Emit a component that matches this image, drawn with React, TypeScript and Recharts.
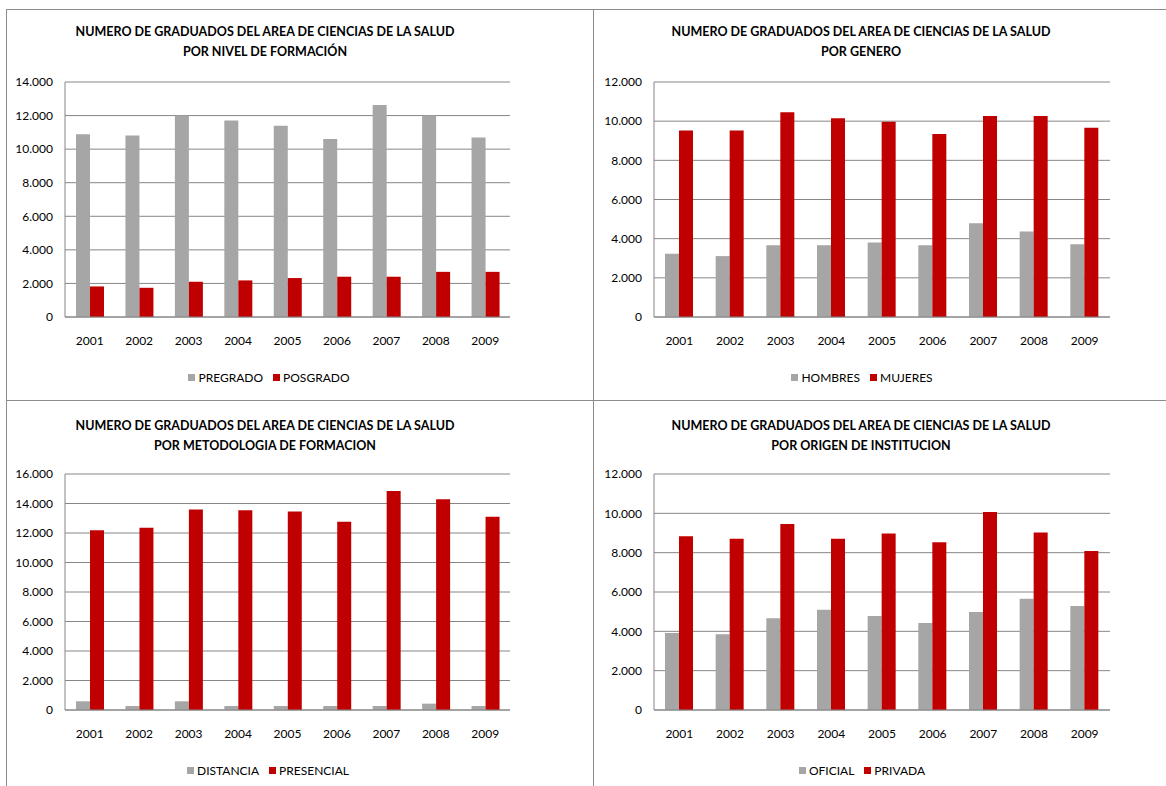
import { BarChart, Bar, XAxis, YAxis, CartesianGrid } from "recharts"

const years = ["2001", "2002", "2003", "2004", "2005", "2006", "2007", "2008", "2009"]

const pregrado = [10890, 10810, 12000, 11700, 11400, 10610, 12630, 12000, 10690]
const posgrado = [1820, 1740, 2100, 2180, 2320, 2400, 2400, 2690, 2690]

const hombres = [3230, 3110, 3670, 3670, 3800, 3670, 4790, 4360, 3720]
const mujeres = [9520, 9520, 10460, 10150, 9970, 9340, 10270, 10270, 9660]

const distancia = [590, 270, 590, 270, 270, 270, 270, 430, 270]
const presencial = [12180, 12360, 13600, 13540, 13450, 12770, 14850, 14280, 13110]

const oficial = [3920, 3850, 4660, 5100, 4780, 4420, 4980, 5660, 5290]
const privada = [8830, 8710, 9460, 8710, 8970, 8530, 10070, 9020, 8080]

const GRAY = "#a6a6a6"
const RED = "#c00000"
const FONT = "Lato, 'Liberation Sans', sans-serif"

const fmt = (v: number) => (v === 0 ? "0" : v.toLocaleString("de-DE"))

const toRows = (a: number[], b: number[]) => years.map((y, i) => ({ year: y, a: a[i], b: b[i] }))

type PanelProps = {
  left: number
  top: number
  width: number
  height: number
  yWidth: number
  marginTop: number
  marginRight: number
  marginBottom: number
  max: number
  title2: string
  names: [string, string]
  a: number[]
  b: number[]
  titleCx: number
  titleTop: number
  legendCx: number
  legendTop: number
}

const Panel = (p: PanelProps) => {
  const ticks: number[] = []
  for (let t = 0; t <= p.max; t += 2000) ticks.push(t)
  return (
    <>
      <div
        style={{
          position: "absolute",
          left: p.titleCx - 250,
          top: p.titleTop,
          width: 500,
          textAlign: "center",
          fontFamily: FONT,
          fontWeight: 700,
          fontSize: 12.5,
          lineHeight: "20px",
          color: "#000",
        }}
      >
        <div>NUMERO DE GRADUADOS DEL AREA DE CIENCIAS DE LA SALUD</div>
        <div>{p.title2}</div>
      </div>
      <div style={{ position: "absolute", left: p.left, top: p.top }}>
        <BarChart
          width={p.width}
          height={p.height}
          data={toRows(p.a, p.b)}
          margin={{ top: p.marginTop, right: p.marginRight, bottom: p.marginBottom, left: 0 }}
          barSize={14}
          barGap={0}
        >
          <CartesianGrid vertical={false} stroke="#868686" strokeWidth={1} />
          <XAxis
            dataKey="year"
            tickLine={false}
            tickSize={0}
            tickMargin={19}
            height={30}
            axisLine={{ stroke: "#868686" }}
            tick={{ fill: "#000", fontSize: 12, fontFamily: FONT }}
          />
          <YAxis
            width={p.yWidth}
            domain={[0, p.max]}
            ticks={ticks}
            tickFormatter={fmt}
            tickLine={false}
            tickSize={0}
            tickMargin={12}
            axisLine={{ stroke: "#868686" }}
            tick={{ fill: "#000", fontSize: 12, fontFamily: FONT }}
            interval={0}
          />
          <Bar dataKey="a" name={p.names[0]} fill={GRAY} isAnimationActive={false} />
          <Bar dataKey="b" name={p.names[1]} fill={RED} isAnimationActive={false} />
        </BarChart>
      </div>
      <div
        style={{
          position: "absolute",
          left: p.legendCx - 150,
          top: p.legendTop,
          width: 300,
          display: "flex",
          justifyContent: "center",
          alignItems: "center",
          gap: 10,
          fontFamily: FONT,
          fontSize: 12,
          color: "#000",
        }}
      >
        {p.names.map((n, i) => (
          <span key={n} style={{ display: "flex", alignItems: "center", gap: 3 }}>
            <span style={{ display: "inline-block", width: 7, height: 7, background: i === 0 ? GRAY : RED }} />
            {n}
          </span>
        ))}
      </div>
    </>
  )
}

export default function App() {
  return (
    <div style={{ position: "absolute", left: 0, top: 0, width: 1166, height: 786, background: "#fff", overflow: "hidden" }}>
      {/* panel frames */}
      <div style={{ position: "absolute", left: 6, top: 9, width: 1180, height: 800, border: "1px solid #8c8c8c" }} />
      <div style={{ position: "absolute", left: 593, top: 9, width: 1, height: 800, background: "#8c8c8c" }} />
      <div style={{ position: "absolute", left: 6, top: 400, width: 1180, height: 1, background: "#8c8c8c" }} />

      <Panel
        left={0} top={0} width={594} height={400} yWidth={65}
        marginTop={82} marginRight={84} marginBottom={53} max={14000}
        title2="POR NIVEL DE FORMACIÓN" names={["PREGRADO", "POSGRADO"]}
        a={pregrado} b={posgrado}
        titleCx={265} titleTop={22} legendCx={269} legendTop={370}
      />
      <Panel
        left={594} top={0} width={572} height={400} yWidth={60}
        marginTop={82} marginRight={56} marginBottom={53} max={12000}
        title2="POR GENERO" names={["HOMBRES", "MUJERES"]}
        a={hombres} b={mujeres}
        titleCx={861} titleTop={22} legendCx={862} legendTop={370}
      />
      <Panel
        left={0} top={400} width={594} height={386} yWidth={65}
        marginTop={74} marginRight={84} marginBottom={46} max={16000}
        title2="POR METODOLOGIA DE FORMACION" names={["DISTANCIA", "PRESENCIAL"]}
        a={distancia} b={presencial}
        titleCx={265} titleTop={416} legendCx={268} legendTop={763}
      />
      <Panel
        left={594} top={400} width={572} height={386} yWidth={60}
        marginTop={74} marginRight={56} marginBottom={46} max={12000}
        title2="POR ORIGEN DE INSTITUCION" names={["OFICIAL", "PRIVADA"]}
        a={oficial} b={privada}
        titleCx={861} titleTop={416} legendCx={862} legendTop={763}
      />
    </div>
  )
}
